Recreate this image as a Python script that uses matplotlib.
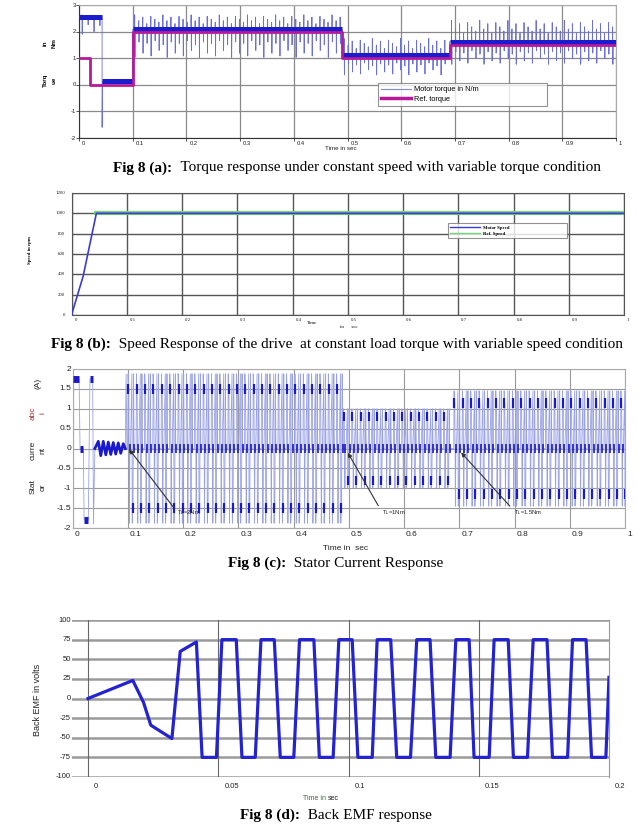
import numpy as np
import matplotlib
matplotlib.use("Agg")
import matplotlib.pyplot as plt
from matplotlib.lines import Line2D
from matplotlib.transforms import offset_copy

# ---------------- data ----------------
# (a) torque
ref_time = [0.0, 0.02, 0.1, 0.49, 0.69, 1.0]
ref_torque = [1.0, 0.0, 2.0, 1.0, 1.5, 1.5]
tq_start = [0.0, 0.043, 0.1, 0.49, 0.69]
tq_end = [0.043, 0.1, 0.49, 0.69, 1.0]
tq_mean = [2.55, 0.13, 2.08, 1.12, 1.62]
tq_entry = [2.55, -1.6, 2.08, 1.12, 1.62]
tq_up = [0.08, 0.05, 0.55, 0.62, 0.8]
tq_down = [0.65, 0.08, 1.05, 0.75, 0.85]
tq_spike_gap = [0.011, 0.02, 0.0075, 0.0075, 0.0075]
tq_up_pattern = [1.0, 0.6, 0.85, 0.4, 0.9, 0.7, 0.5]
tq_down_pattern = [1.0, 0.45, 0.85, 0.5, 0.95, 0.4, 0.75, 0.55]
a_xticks = [0, 0.1, 0.2, 0.3, 0.4, 0.5, 0.6, 0.7, 0.8, 0.9, 1.0]
a_xlabels = ["0", "0.1", "0.2", "0.3", "0.4", "0.5", "0.6", "0.7", "0.8", "0.9", "1"]
a_yticks = [-2, -1, 0, 1, 2, 3]
a_ylabels = ["-2", "-1", "0", "1", "2", "3"]

# (b) speed
speed_time = [0.0, 0.021, 0.045, 1.0]
motor_speed = [0, 380, 1000, 1000]
ref_speed_time = [0.045, 1.0]
ref_speed = [1000, 1000]
b_yticks = [0, 200, 400, 600, 800, 1000, 1200]
b_ylabels = ["0", "200", "400", "600", "800", "1000", "1200"]

# (c) stator current
init_cur_t = [0.0, 0.012, 0.0136, 0.0196, 0.021, 0.0286, 0.0316, 0.0365, 0.038, 0.0405,
              0.0467, 0.0512, 0.0557, 0.0603, 0.0648, 0.0693, 0.0738, 0.0783, 0.0828, 0.0873, 0.0919,
              0.0955, 0.097, 0.0985, 0.1]
init_cur_i = [1.75, 1.75, 0.0, 0.0, -1.8, -1.8, 1.75, 1.75, -1.9, 0.0,
              0.18, -0.18, 0.18, -0.16, 0.16, -0.15, 0.15, -0.14, 0.14, -0.12, 0.12,
              0.0, 1.87, 0.0, 0.0]
init_block_t0 = [0.0, 0.0136, 0.021, 0.0316]
init_block_t1 = [0.012, 0.0196, 0.0286, 0.0365]
init_block_lev = [1.75, 0.0, -1.8, 1.75]
cur_seg_start = [0.1, 0.49, 0.69]
cur_seg_end = [0.49, 0.69, 1.0]
cur_plateau = [1.5, 0.8, 1.15]
cur_peak = [1.88, 1.0, 1.45]
cur_period = 0.0151
cycle_phase = [0.00, 0.04, 0.085, 0.13, 0.20, 0.26, 0.33, 0.50, 0.54, 0.58, 0.63, 0.70, 0.76, 0.83, 0.97]
cycle_kind = ["0", "P", "p", "p", "N", "0", "0", "P", "N", "n", "n", "P", "0", "0", "0"]
bar_phase = [0.085, 0.26, 0.58, 0.76]
bar_kind = ["p", "0", "n", "0"]
c_yticks = [-2, -1.5, -1, -0.5, 0, 0.5, 1, 1.5, 2]
c_ylabels = ["-2", "-1.5", "-1", "-0.5", "0", "0.5", "1", "1.5", "2"]
ann_text = ["T$_L$=2Nm", "T$_L$=1Nm", "T$_L$=1.5Nm"]
ann_xy = [(0.1, 0.03), (0.496, -0.05), (0.70, -0.05)]
ann_xytext = [(0.185, -1.52), (0.556, -1.5), (0.795, -1.5)]

# (d) back EMF
emf_t = [0, 0.0172, 0.0213, 0.0241, 0.0322, 0.0354, 0.0416,
         0.0438, 0.0493, 0.0514, 0.0569, 0.0591, 0.0642, 0.0664, 0.0715, 0.0738, 0.0790,
         0.0812, 0.0867, 0.0888, 0.0941, 0.0963, 0.1014, 0.1036, 0.1091, 0.1110, 0.1162,
         0.1185, 0.1238, 0.1262, 0.1313, 0.1335, 0.1390, 0.1412, 0.1463, 0.1482, 0.1540,
         0.1559, 0.1613, 0.1633, 0.1687, 0.1709, 0.1762, 0.1783, 0.1841, 0.1860, 0.1912,
         0.1933, 0.1988, 0.2]
emf_v = [0, 23, -5, -34, -51, 60, 72,
         -75, -75, 75, 75, -75, -75, 75, 75, -75, -75,
         75, 75, -75, -75, 75, 75, -75, -75, 75, 75,
         -75, -75, 75, 75, -75, -75, 75, 75, -75, -75,
         75, 75, -75, -75, 75, 75, -75, -75, 75, 75,
         -75, -75, 27]
d_xticks = [0, 0.05, 0.1, 0.15, 0.2]
d_xlabels = ["0", "0.05", "0.1", "0.15", "0.2"]
d_yticks = [-100, -75, -50, -25, 0, 25, 50, 75, 100]
d_ylabels = ["-100", "-75", "-50", "-25", "0", "25", "50", "75", "100"]

# ---------------- layout helpers ----------------
W, H = 637, 827
fig = plt.figure(figsize=(W / 100, H / 100), dpi=100)
SANS = "Liberation Sans"
SERIF = "Liberation Serif"


def rect(l, t, r, b):
    return [l / W, 1 - b / H, (r - l) / W, (b - t) / H]


def xlabels(ax, ticks, labels, fs, dx=2, dy=-2, color="#222", family=SANS):
    tr = offset_copy(ax.get_xaxis_transform(), fig=fig, x=dx, y=dy, units="dots")
    for x, lab in zip(ticks, labels):
        ax.text(x, 0, lab, transform=tr, ha="left", va="top", fontsize=fs,
                color=color, family=family)


def ylabels(ax, ticks, labels, fs, dx=-3, color="#222", family=SANS):
    tr = offset_copy(ax.get_yaxis_transform(), fig=fig, x=dx, y=0, units="dots")
    for y, lab in zip(ticks, labels):
        ax.text(0, y, lab, transform=tr, ha="right", va="center", fontsize=fs,
                color=color, family=family)


def ftext(x, y, s, **kw):
    return fig.text(x / W, 1 - y / H, s, **kw)


def caption(cx, y, bold, rest, fs=11):
    t1 = ftext(0, y, bold, fontsize=fs, family=SERIF, fontweight="bold", va="center")
    t2 = ftext(0, y, "  " + rest, fontsize=fs, family=SERIF, va="center")
    fig.canvas.draw()
    r = fig.canvas.get_renderer()
    w1 = t1.get_window_extent(r).width
    w2 = t2.get_window_extent(r).width
    x0 = cx - (w1 + w2) / 2
    t1.set_position((x0 / W, 1 - y / H))
    t2.set_position(((x0 + w1) / W, 1 - y / H))


# ---------------- (a) torque ----------------
ax = fig.add_axes(rect(79, 5, 616, 138))
ax.set_xlim(0, 1)
ax.set_ylim(-2, 3)
ax.set_xticks(a_xticks)
ax.set_yticks(a_yticks)
ax.set_xticklabels([])
ax.set_yticklabels([])
ax.tick_params(length=2, width=0.6, color="#333")
ax.grid(True, color="#8a8a8a", lw=0.9)
ax.set_axisbelow(True)
for s in ["top", "right"]:
    ax.spines[s].set_color("#aaaaaa")
for s in ["left", "bottom"]:
    ax.spines[s].set_color("#333333")

tt, tv = [], []
for s, e, m, en, up, dn, gap in zip(tq_start, tq_end, tq_mean, tq_entry, tq_up, tq_down, tq_spike_gap):
    tt += [s, s + 0.0008]
    tv += [en, m]
    k = 0
    tk = s + gap / 2
    while tk < e - 0.002:
        pu = tq_up_pattern[k % len(tq_up_pattern)]
        pd = tq_down_pattern[k % len(tq_down_pattern)]
        tt += [tk - 0.0004, tk, tk + 0.0005, tk + 0.001]
        tv += [m, m + up * pu, m - dn * pd, m]
        tk += gap
        k += 1
    tt.append(e)
    tv.append(m)
ax.plot(tt, tv, color="#6a70d8", lw=0.6, zorder=3)
ax.hlines(tq_mean, tq_start, tq_end, color="#1c1ccf", lw=3.6, zorder=4)
ax.step(ref_time, ref_torque, where="post", color="#b8199a", lw=2.0, zorder=5)
xlabels(ax, a_xticks, a_xlabels, 4.2, dx=3, dy=-3)
ylabels(ax, a_yticks, a_ylabels, 4.2, dx=-3)
h1 = Line2D([], [], color="#8088d8", lw=0.8)
h2 = Line2D([], [], color="#b8199a", lw=2.5)
leg = ax.legend([h1, h2], ["Motor torque in N/m", "Ref. torque"], loc="upper left",
                bbox_to_anchor=(378 / W, 1 - 104 / H, 169 / W, 21 / H),
                bbox_transform=fig.transFigure, mode="expand",
                prop={"family": SANS, "size": 5.3}, frameon=True, fancybox=False,
                edgecolor="#777777", handlelength=4, handletextpad=0.5,
                labelspacing=0.3, borderpad=0.45, borderaxespad=0)
leg.get_frame().set_linewidth(0.8)
ftext(325, 149, "Time in sec", fontsize=4.5, family=SANS, color="#222", va="center")
ftext(45, 80, "Torq", fontsize=4.5, family=SANS, rotation=90, ha="center", va="center", fontweight="bold")
ftext(54, 80, "ue", fontsize=4.5, family=SANS, rotation=90, ha="center", va="center", fontweight="bold")
ftext(45, 43, "in", fontsize=4.5, family=SANS, rotation=90, ha="center", va="center", fontweight="bold")
ftext(54, 43, "Nm", fontsize=4.5, family=SANS, rotation=90, ha="center", va="center", fontweight="bold")
caption(357, 168, "Fig 8 (a):", "Torque response under constant speed with variable torque condition")

# ---------------- (b) speed ----------------
ax = fig.add_axes(rect(71.5, 193, 624, 315))
ax.set_xlim(0, 0.995)
ax.set_ylim(0, 1200)
ax.set_xticks(a_xticks)
ax.set_yticks(b_yticks)
ax.set_xticklabels([])
ax.set_yticklabels([])
ax.tick_params(length=0)
ax.grid(True, color="#555555", lw=1.0)
ax.set_axisbelow(True)
for s in ax.spines.values():
    s.set_color("#555555")
ax.plot(ref_speed_time, ref_speed, color="#74d474", lw=3.0, zorder=3)
ax.plot(speed_time, motor_speed, color="#3b3bd6", lw=1.2, zorder=4)
xlabels(ax, a_xticks, a_xlabels, 3.5, dx=3, dy=-3, family=SERIF)
ylabels(ax, b_yticks, b_ylabels, 3.5, dx=-6, family=SERIF)
h1 = Line2D([], [], color="#3b3bd6", lw=1.0)
h2 = Line2D([], [], color="#74d474", lw=1.0)
leg = ax.legend([h1, h2], ["Motor Speed", "Ref. Speed"], loc="upper left",
                bbox_to_anchor=(448 / W, 1 - 241 / H, 119 / W, 18 / H),
                bbox_transform=fig.transFigure, mode="expand",
                prop={"family": SERIF, "size": 3.5, "weight": "bold"}, frameon=True,
                fancybox=False, edgecolor="#777777", handlelength=6, labelspacing=0.3,
                borderpad=0.5, borderaxespad=0)
leg.get_frame().set_linewidth(0.8)
ftext(30, 250, "Speed in rpm", fontsize=3.5, family=SERIF, rotation=90, ha="center", va="center",
      fontweight="bold")
ftext(307, 323, "Time", fontsize=3.5, family=SERIF, va="center")
ftext(340, 327, "in      sec", fontsize=3.5, family=SERIF, va="center")
caption(337, 344, "Fig 8 (b):", "Speed Response of the drive  at constant load torque with variable speed condition")

# ---------------- (c) stator current ----------------
ax = fig.add_axes(rect(72.5, 369, 625, 528))
ax.set_xlim(0, 1)
ax.set_ylim(-2, 2)
ax.set_xticks(a_xticks)
ax.set_yticks(c_yticks)
ax.set_xticklabels([])
ax.set_yticklabels([])
ax.tick_params(length=0)
ax.grid(True, color="#9a9a9a", lw=0.8)
ax.set_axisbelow(True)
for s in ax.spines.values():
    s.set_color("#aaaaaa")

ct, cv = list(init_cur_t), list(init_cur_i)
bt, bv = [], []
for s, e, plat, peak in zip(cur_seg_start, cur_seg_end, cur_plateau, cur_peak):
    lev = {"0": 0.0, "P": peak, "p": plat, "N": -peak, "n": -plat}
    base = s
    while base < e - 0.004:
        for ph, kd in zip(cycle_phase, cycle_kind):
            ct.append(base + ph * cur_period)
            cv.append(lev[kd])
        for ph, kd in zip(bar_phase, bar_kind):
            bt.append(base + ph * cur_period)
            bv.append(lev[kd])
        base += cur_period
ax.plot(ct, cv, color="#9aa2e6", lw=0.6, zorder=3)
bt = np.array(bt)
bv = np.array(bv)
nz = bv != 0
ax.vlines(bt[nz], bv[nz] - 0.12, bv[nz] + 0.12, color="#1a1acc", lw=1.6, zorder=4)
ax.vlines(bt[~nz], -0.11, 0.11, color="#1a1acc", lw=1.2, zorder=4)
ax.hlines(init_block_lev, init_block_t0, init_block_t1, color="#1a1acc", lw=5, zorder=4)
ict = np.array(init_cur_t)
ici = np.array(init_cur_i)
m = (ict >= 0.0405) & (ict <= 0.0955)
ax.plot(ict[m], ici[m], color="#1a1acc", lw=2.0, zorder=4)
for txt, xy, xyt in zip(ann_text, ann_xy, ann_xytext):
    ax.annotate("", xy=xy, xytext=xyt,
                arrowprops=dict(arrowstyle="-|>", color="#333333", lw=0.8, mutation_scale=6), zorder=6)
    ax.text(xyt[0] + 0.005, xyt[1] - 0.1, txt, fontsize=4.2, family=SANS, color="#222",
            ha="left", va="center", zorder=6)
xlabels(ax, a_xticks, a_xlabels, 6, dx=2, dy=-3)
ylabels(ax, c_yticks, c_ylabels, 6, dx=-1)
ftext(323, 548, "Time in  sec", fontsize=6, family=SANS, color="#222", va="center")
for x, y, s, c in [(33, 487, "Stat", "#222"), (43, 487, "or", "#222"),
                   (33, 450, "curre", "#222"), (43, 450, "nt", "#222"),
                   (33, 413, "abc", "#a03030"), (43, 413, "i", "#a03030"),
                   (38, 383, "(A)", "#222")]:
    ftext(x, y, s, fontsize=6, family=SANS, rotation=90, ha="center", va="center", color=c)
caption(336, 563, "Fig 8 (c):", "Stator Current Response")

# ---------------- (d) back EMF ----------------
ax = fig.add_axes(rect(72, 620, 609, 777))
ax.set_xlim(-0.00615, 0.2)
ax.set_ylim(-100, 100)
ax.set_xticks([])
ax.set_yticks([])
for s in ["top", "bottom", "left"]:
    ax.spines[s].set_visible(False)
ax.spines["right"].set_color("#999999")
for y in d_yticks:
    ax.axhline(y, color="#9a9a9a", lw=1.8, zorder=1)
for x in d_xticks[:-1]:
    ax.axvline(x, color="#666666", lw=0.8, zorder=1)
ax.plot(emf_t, emf_v, color="#2323d2", lw=2.3, zorder=3)
xlabels(ax, d_xticks, d_xlabels, 5.5, dx=6, dy=-6)
ylabels(ax, d_yticks, d_ylabels, 5.5, dx=-1)
ftext(37, 700, "Back EMF in volts", fontsize=6.5, family=SANS, rotation=90, ha="center",
      va="center", color="#222")
ftext(303, 798, "Time in", fontsize=5, family=SANS, color="#3a6a3a", va="center")
ftext(328, 798, "sec", fontsize=5, family=SANS, color="#222", va="center")
caption(336, 815, "Fig 8 (d):", "Back EMF response")

fig.savefig("out.png", dpi=100)
